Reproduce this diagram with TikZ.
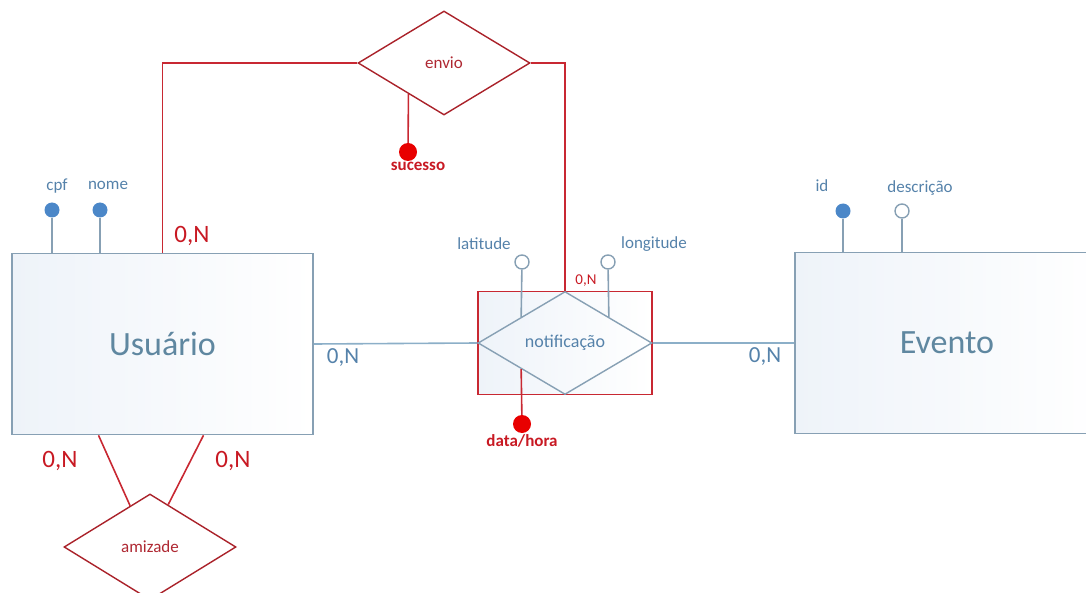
\documentclass[tikz,border=0pt]{standalone}
\usepackage{fontspec}
\setmainfont{Carlito}
\usetikzlibrary{
    shapes.geometric,
    positioning,
    calc
}
\definecolor{entline}{RGB}{135,160,180}
\definecolor{bluerel}{RGB}{140,175,200}
\definecolor{blueball}{RGB}{75,135,200}
\definecolor{bluetext}{RGB}{85,130,170}
\definecolor{enttext}{RGB}{95,135,160}
\definecolor{entfill}{RGB}{238,243,249}
\definecolor{redline}{RGB}{200,40,50}
\definecolor{reltext}{RGB}{175,40,50}
\definecolor{redtext}{RGB}{200,25,35}
\definecolor{redball}{RGB}{232,0,0}
\tikzstyle{entity} = [
    rectangle,
    draw=entline,
    line width=1.6pt,
    left color=entfill,
    right color=white,
    minimum height=181pt,
    inner sep=0pt,
    text=enttext,
    font=\fontsize{34}{40}\selectfont
]
\tikzstyle{relation} = [
    diamond,
    draw=redline!85!black,
    line width=1.4pt,
    fill=white,
    minimum width=172pt,
    minimum height=104pt,
    inner sep=0pt,
    text=reltext,
    font=\fontsize{17}{20}\selectfont
]
\tikzstyle{keyattr} = [circle, fill=blueball, minimum size=15pt, inner sep=0pt]
\tikzstyle{plainattr} = [circle, draw=entline, fill=white, line width=1.4pt, minimum size=14pt, inner sep=0pt]
\tikzstyle{redattr} = [circle, fill=redball, minimum size=18pt, inner sep=0pt]
\tikzstyle{attrname} = [text=bluetext, inner sep=1pt, font=\fontsize{17}{20}\selectfont]
\tikzstyle{redname} = [text=redtext, inner sep=1pt, font=\fontsize{17}{20}\selectfont\bfseries]
\tikzstyle{attrline} = [line width=1.6pt, draw=entline]
\tikzstyle{bluerel} = [line width=1.6pt, draw=bluerel]
\tikzstyle{redrel} = [line width=1.6pt, draw=redline]
\tikzstyle{redcard} = [text=redtext, font=\fontsize{25}{30}\selectfont]
\tikzstyle{bluecard} = [text=bluetext, font=\fontsize{23}{28}\selectfont]

\begin{document}
\begin{tikzpicture}[x=1pt, y=-1pt]
        \clip (0,0) rectangle (1086,593);

        % Entities
        \node[entity, minimum width=301pt] (usu) at (162.5,344) {Usuário};
        \node[entity, minimum width=304pt] (evt) at (947,343) {Evento};

        % notificacao (associative entity)
        \node[rectangle, draw=redline, line width=1.4pt, left color=entfill, right color=white,
              minimum width=174pt, minimum height=103pt, inner sep=0pt] (notr) at (565,343) {};
        \node[diamond, draw=entline, line width=1.4pt, minimum width=174pt, minimum height=103pt,
              inner sep=0pt, text=bluetext, font=\fontsize{18}{21}\selectfont] (notd) at (565,343) {notificação};

        % Relationships
        \node[relation] (envio) at (444,63) {envio};
        \node[relation, minimum height=106pt] (amizade) at (150,547) {amizade};

        % Usuario attributes
        \node[keyattr] (cpfb) at (52,210) {};
        \node[attrname] (cpf) at (57,186) {cpf};
        \node[keyattr] (nomeb) at (100,210) {};
        \node[attrname] (nome) at (108,185) {nome};
        \draw[attrline] (cpfb) -- (cpfb |- usu.north);
        \draw[attrline] (nomeb) -- (nomeb |- usu.north);

        % Evento attributes
        \node[keyattr] (idb) at (843,211) {};
        \node[attrname] (id) at (822,186) {id};
        \node[plainattr] (descb) at (902,211) {};
        \node[attrname] (desc) at (920,188) {descrição};
        \draw[attrline] (idb) -- (idb |- evt.north);
        \draw[attrline] (descb) -- (descb |- evt.north);

        % notificacao attributes
        \node[plainattr] (latb) at (522,262) {};
        \node[attrname] (lat) at (484,244) {latitude};
        \node[plainattr] (lonb) at (608,262) {};
        \node[attrname] (lon) at (654,244) {longitude};
        \draw[attrline] (latb) -- (notd.north west);
        \draw[attrline] (lonb) -- (notd.north east);
        \node[redattr] (datab) at (522,424) {};
        \node[redname, below=0pt of datab] (data) {data/hora};
        \draw[redrel] (datab) -- (notd.south west);

        % envio attribute
        \node[redattr] (sucb) at (408,152) {};
        \node[redname, below=0pt of sucb, xshift=10pt] (suc) {sucesso};
        \draw[redrel] (sucb) -- ($(envio.west)!0.59!(envio.south)$);

        % Connections
        \draw[redrel] (envio.west) -| (usu.north);
        \draw[redrel] (envio.east) -| (notr.north);
        \draw[bluerel] (usu.east) -- (notr.west);
        \draw[bluerel] (notr.east) -- (evt.west);
        \draw[redrel] ($(usu.south)+(-64,0)$) -- ($(amizade.west)!0.77!(amizade.north)$);
        \draw[redrel] ($(usu.south)+(41,0)$) -- ($(amizade.east)!0.79!(amizade.north)$);

        % Cardinalities
        \node[redcard] (c1) at (192,236) {0,N};
        \node[redcard] (c2) at (60,461) {0,N};
        \node[redcard] (c3) at (233,461) {0,N};
        \node[bluecard] (c4) at (343,358) {0,N};
        \node[bluecard] (c5) at (765,357) {0,N};
        \node[text=redtext, font=\fontsize{15}{18}\selectfont] (c6) at (586,281) {0,N};
    \end{tikzpicture}
\end{document}
